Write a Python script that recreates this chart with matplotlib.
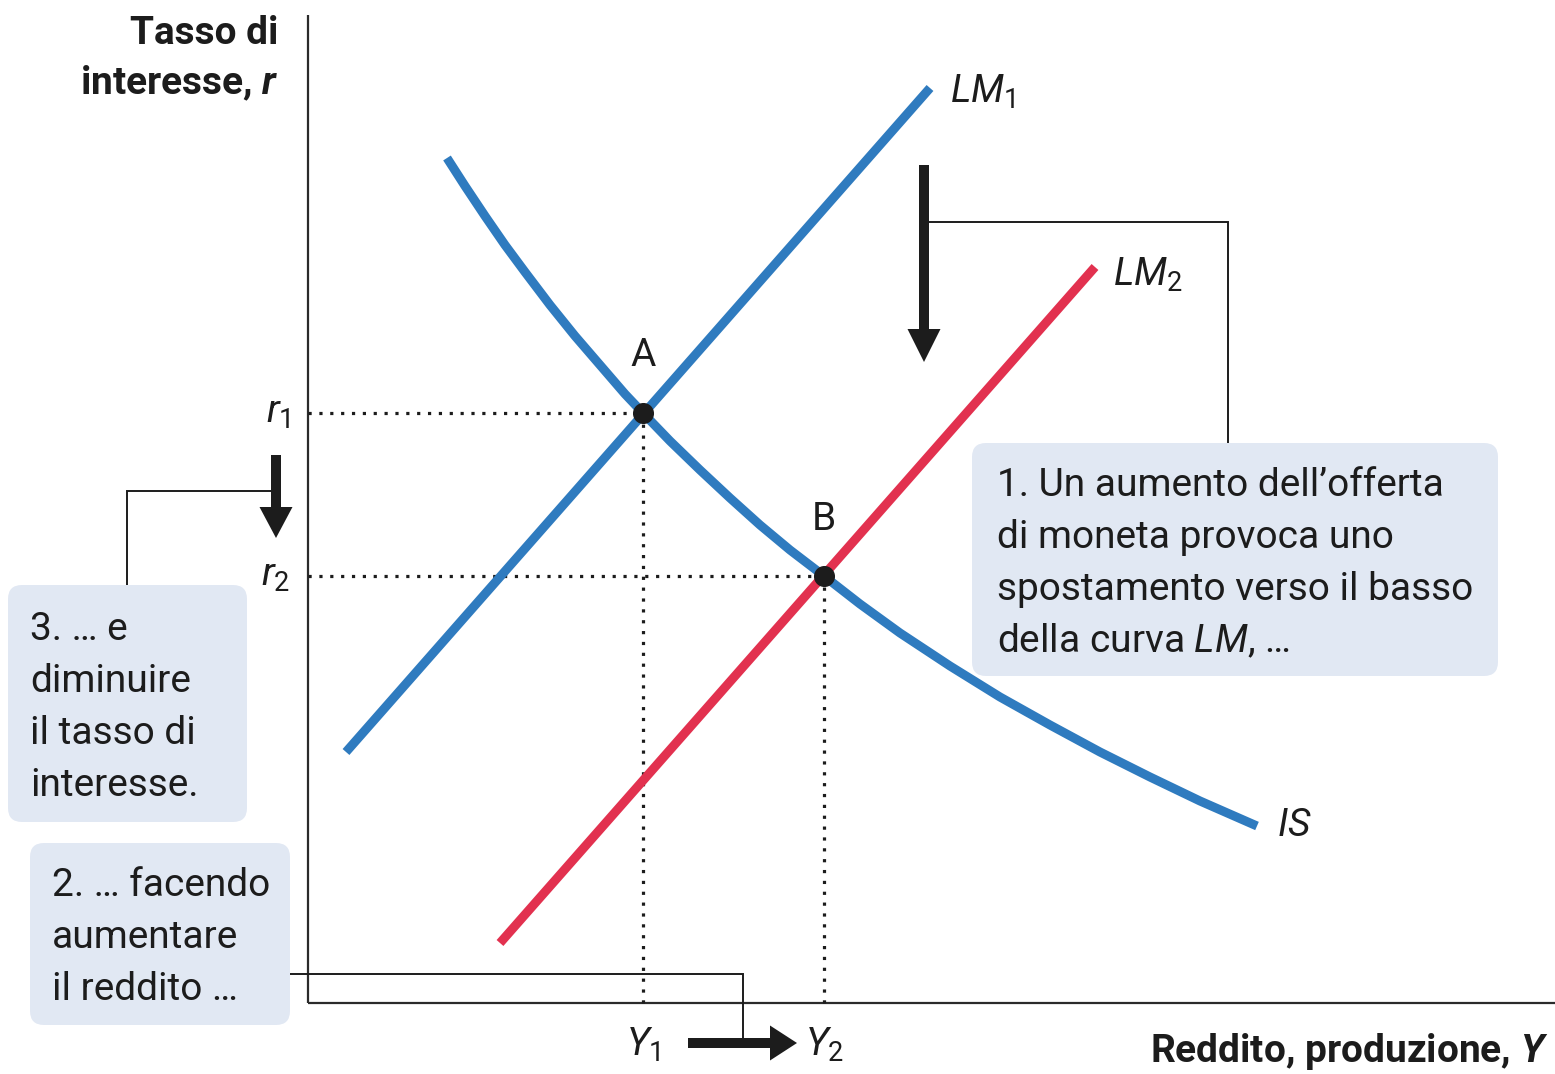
import matplotlib
matplotlib.use('Agg')
import matplotlib.pyplot as plt
from matplotlib.patches import FancyBboxPatch

plt.rcParams['font.family'] = ['Roboto', 'DejaVu Sans']
plt.rcParams['mathtext.fontset'] = 'custom'
plt.rcParams['mathtext.rm'] = 'Roboto'
plt.rcParams['mathtext.it'] = 'Roboto:italic'
plt.rcParams['mathtext.bf'] = 'Roboto:bold'
plt.rcParams['mathtext.bfit'] = 'Roboto:italic:bold'

# curve di equilibrio (reddito Y, tasso r)
lm1_y = [0.38, 6.22]
lm1_r = [2.51, 9.15]
lm2_y = [1.92, 7.87]
lm2_r = [0.60, 7.36]
is_y = [1.39, 1.57, 1.77, 1.97, 2.17, 2.42, 2.67, 2.92, 3.17, 3.35, 3.62,
        3.92, 4.22, 4.52, 4.82, 5.16, 5.52, 5.92, 6.42, 6.92, 7.42, 7.92,
        8.42, 8.92, 9.49]
is_r = [8.45, 8.17, 7.87, 7.58, 7.31, 6.98, 6.67, 6.38, 6.09, 5.90, 5.62,
        5.33, 5.05, 4.78, 4.53, 4.27, 3.99, 3.70, 3.37, 3.06, 2.78, 2.51,
        2.26, 2.02, 1.77]

# punti di equilibrio A e B
eq_names = ['A', 'B']
eq_y = [3.35, 5.16]
eq_r = [5.90, 4.27]
y_ticks = [r'$Y_1$', r'$Y_2$']
r_ticks = [r'$r_1$', r'$r_2$']

note1 = ['1. Un aumento dell’offerta', 'di moneta provoca uno',
         'spostamento verso il basso', 'della curva $LM$, …']
note2 = ['2. … facendo', 'aumentare', 'il reddito …']
note3 = ['3. … e', 'diminuire', 'il tasso di', 'interesse.']

BLUE = '#2f7bbf'
RED = '#e2314f'
BOX = '#e1e8f3'
INK = '#1c1c1c'
FS = 28

fig = plt.figure(figsize=(15.55, 10.74), dpi=100)
ax = fig.add_axes([0, 0, 1, 1])
ax.set_xlim(-3.08, 12.47)
ax.set_ylim(-0.71, 10.03)
ax.axis('off')

# assi
ax.plot([0, 0], [0, 9.88], color='#2b2b2b', lw=1.6, solid_capstyle='butt')
ax.plot([0, 12.47], [0, 0], color='#2b2b2b', lw=1.6, solid_capstyle='butt')
ax.text(-0.30, 9.70, 'Tasso di', ha='right', va='center', fontsize=FS,
        fontweight='bold', color=INK)
ax.text(-0.30, 9.20, r'interesse, $\mathbfit{r}$', ha='right', va='center',
        fontsize=FS, fontweight='bold', color=INK)
ax.text(12.40, -0.49, r'Reddito, produzione, $\mathbfit{Y}$', ha='right',
        va='center', fontsize=FS, fontweight='bold', color=INK)

# linee tratteggiate verso gli assi
dots = dict(color=INK, lw=2.3, linestyle=(0, (1, 2.4)), dash_capstyle='butt')
for x, y in zip(eq_y, eq_r):
    ax.plot([0, x], [y, y], **dots)
    ax.plot([x, x], [0, y], **dots)

# curve
ax.plot(lm1_y, lm1_r, color=BLUE, lw=6.5, solid_capstyle='butt', zorder=3)
ax.plot(lm2_y, lm2_r, color=RED, lw=6.5, solid_capstyle='butt', zorder=3)
ax.plot(is_y, is_r, color=BLUE, lw=6.5, solid_capstyle='butt',
        solid_joinstyle='round', zorder=3)
ax.text(lm1_y[1] + 0.20, lm1_r[1] - 0.04, r'$LM_1$', fontsize=FS, va='center',
        color=INK)
ax.text(lm2_y[1] + 0.18, lm2_r[1] - 0.08, r'$LM_2$', fontsize=FS, va='center',
        color=INK)
ax.text(is_y[-1] + 0.20, is_r[-1], r'$IS$', fontsize=FS, va='center',
        color=INK)

ax.scatter(eq_y, eq_r, s=200, color=INK, zorder=5)
for name, x, y in zip(eq_names, eq_y, eq_r):
    ax.text(x, y + 0.57, name, ha='center', va='center', fontsize=FS,
            color=INK)
for lab, x in zip(y_ticks, eq_y):
    ax.text(x, -0.42, lab, ha='center', va='center', fontsize=FS, color=INK)
for lab, y in zip(r_ticks, eq_r):
    ax.text(-0.18, y, lab, ha='right', va='center', fontsize=FS, color=INK)

# frecce
arr = dict(width=0.10, length_includes_head=True, color=INK, lw=0, zorder=6)
ax.arrow(6.16, 8.38, 0, -1.97, head_width=0.33, head_length=0.33, **arr)
ax.arrow(-0.32, 5.48, 0, -0.83, head_width=0.33, head_length=0.31, **arr)
ax.arrow(3.80, -0.40, 1.09, 0, head_width=0.35, head_length=0.27, **arr)

# collegamenti tra note e frecce
conn = dict(color=INK, lw=1.4, solid_joinstyle='miter', zorder=2)
ax.plot([6.16, 9.20, 9.20], [7.81, 7.81, 5.60], **conn)
ax.plot([-0.32, -1.81, -1.81], [5.12, 5.12, 4.18], **conn)
ax.plot([-0.18, 4.35, 4.35], [0.29, 0.29, -0.38], **conn)


def note(x0, x1, y0, y1, lines, ytop, dx=0.25):
    ax.add_patch(FancyBboxPatch((x0, y0), x1 - x0, y1 - y0,
                                boxstyle='round,pad=0,rounding_size=0.14',
                                fc=BOX, ec='none', zorder=7))
    for i, line in enumerate(lines):
        ax.text(x0 + dx, ytop - 0.52 * i, line, ha='left', va='center',
                fontsize=FS, color=INK, zorder=8)


note(6.64, 11.90, 3.27, 5.60, note1, 5.18)
note(-2.78, -0.18, -0.22, 1.60, note2, 1.18, dx=0.22)
note(-3.00, -0.61, 1.81, 4.18, note3, 3.74, dx=0.22)

plt.savefig('out.png', dpi=100)
